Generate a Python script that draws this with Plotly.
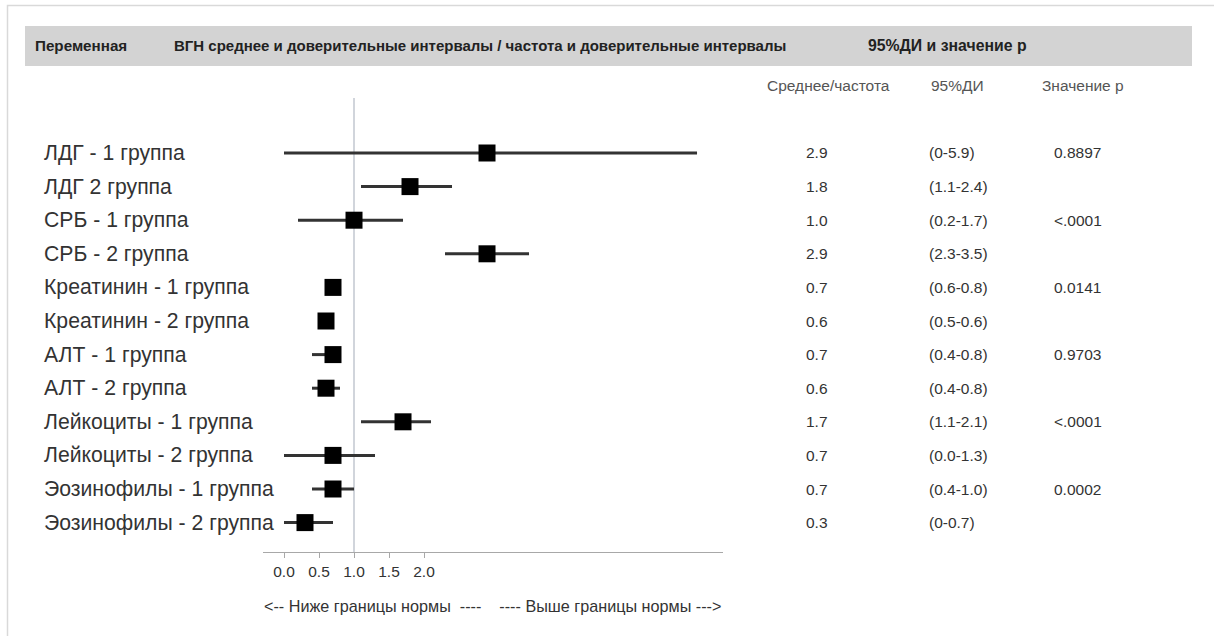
import plotly.graph_objects as go

# Forest-plot data: one row per variable / group
labels = [
    "ЛДГ - 1 группа", "ЛДГ 2 группа", "СРБ - 1 группа", "СРБ - 2 группа",
    "Креатинин - 1 группа", "Креатинин - 2 группа", "АЛТ - 1 группа", "АЛТ - 2 группа",
    "Лейкоциты - 1 группа", "Лейкоциты - 2 группа", "Эозинофилы - 1 группа",
    "Эозинофилы - 2 группа",
]
means = [2.9, 1.8, 1.0, 2.9, 0.7, 0.6, 0.7, 0.6, 1.7, 0.7, 0.7, 0.3]
ci_low = [0.0, 1.1, 0.2, 2.3, 0.6, 0.5, 0.4, 0.4, 1.1, 0.0, 0.4, 0.0]
ci_high = [5.9, 2.4, 1.7, 3.5, 0.8, 0.6, 0.8, 0.8, 2.1, 1.3, 1.0, 0.7]
ci_text = [
    "(0-5.9)", "(1.1-2.4)", "(0.2-1.7)", "(2.3-3.5)", "(0.6-0.8)", "(0.5-0.6)",
    "(0.4-0.8)", "(0.4-0.8)", "(1.1-2.1)", "(0.0-1.3)", "(0.4-1.0)", "(0-0.7)",
]
p_values = ["0.8897", "", "<.0001", "", "0.0141", "", "0.9703", "", "<.0001", "", "0.0002", ""]

tick_vals = [0.0, 0.5, 1.0, 1.5, 2.0]
tick_text = ["0.0", "0.5", "1.0", "1.5", "2.0"]

header_cols = ["Переменная",
               "ВГН среднее и доверительные интервалы / частота и доверительные интервалы",
               "95%ДИ и значение р"]
header_sizes = [15.2, 15.0, 15.8]
sub_cols = ["Среднее/частота", "95%ДИ", "Значение р"]
footer = "<-- Ниже границы нормы  ----    ---- Выше границы нормы --->"

W, H = 1214, 636
FONT = "Liberation Sans, Arial, sans-serif"


def px(x):
    return x / W


def py(y):
    return 1 - y / H


rows = list(range(len(labels)))

fig = go.Figure()
fig.add_trace(go.Scatter(
    x=means, y=rows, mode="markers",
    marker=dict(symbol="square", size=17, color="black", line=dict(width=0)),
    error_x=dict(type="data", symmetric=False,
                 array=[h - m for h, m in zip(ci_high, means)],
                 arrayminus=[m - l for m, l in zip(means, ci_low)],
                 color="#333333", thickness=3, width=0),
    showlegend=False, hoverinfo="skip",
))

shapes = [
    # outer frame
    dict(type="rect", xref="paper", yref="paper", x0=px(7.5), x1=1.05, y0=-0.05, y1=py(5.5),
         line=dict(color="#d9d9d9", width=1.5), fillcolor="rgba(0,0,0,0)", layer="below"),
    # header band
    dict(type="rect", xref="paper", yref="paper", x0=px(25), x1=px(1192), y0=py(66), y1=py(26),
         line=dict(width=0), fillcolor="#d3d3d3", layer="below"),
    # reference line at 1.0
    dict(type="line", xref="x", yref="y domain", x0=1, x1=1, y0=0, y1=1,
         line=dict(color="#a3abb8", width=1), layer="below"),
]

ann = []
for x, t, s in zip([33, 172, 866], header_cols, header_sizes):
    ann.append(dict(x=px(x), y=py(45), xref="paper", yref="paper", text=f"<b>{t}</b>",
                    showarrow=False, xanchor="left", yanchor="middle",
                    font=dict(family=FONT, size=s, color="#222222")))
for x, t in zip([765, 929, 1040], sub_cols):
    ann.append(dict(x=px(x), y=py(85), xref="paper", yref="paper", text=t,
                    showarrow=False, xanchor="left", yanchor="middle",
                    font=dict(family=FONT, size=15.5, color="#555555")))
for i in rows:
    ann.append(dict(x=px(42), y=i, xref="paper", yref="y", text=labels[i], showarrow=False,
                    xanchor="left", yanchor="middle",
                    font=dict(family=FONT, size=21.2, color="#333333")))
    ann.append(dict(x=px(804), y=i, xref="paper", yref="y", text=f"{means[i]:.1f}",
                    showarrow=False, xanchor="left", yanchor="middle",
                    font=dict(family=FONT, size=15.5, color="#333333")))
    ann.append(dict(x=px(927), y=i, xref="paper", yref="y", text=ci_text[i],
                    showarrow=False, xanchor="left", yanchor="middle",
                    font=dict(family=FONT, size=15.5, color="#333333")))
    if p_values[i]:
        ann.append(dict(x=px(1052), y=i, xref="paper", yref="y", text=p_values[i],
                        showarrow=False, xanchor="left", yanchor="middle",
                        font=dict(family=FONT, size=15.5, color="#333333")))
ann.append(dict(x=px(262), y=py(606), xref="paper", yref="paper", text=footer,
                showarrow=False, xanchor="left", yanchor="middle",
                font=dict(family=FONT, size=16.2, color="#333333")))

fig.update_layout(
    width=W, height=H, margin=dict(l=0, r=0, t=0, b=0),
    paper_bgcolor="white", plot_bgcolor="white",
    xaxis=dict(domain=[px(263), px(723)], range=[-0.3, 6.271],
               showgrid=False, zeroline=False, showline=True, linecolor="#a8a8a8", linewidth=1,
               ticks="outside", ticklen=5, tickcolor="#a8a8a8", tickwidth=1,
               tickvals=tick_vals, ticktext=tick_text,
               tickfont=dict(family=FONT, size=15.5, color="#333333")),
    yaxis=dict(domain=[py(552), py(98)], range=[11.875, -1.637], visible=False),
    shapes=shapes, annotations=ann,
)

fig.write_html("out.html")
